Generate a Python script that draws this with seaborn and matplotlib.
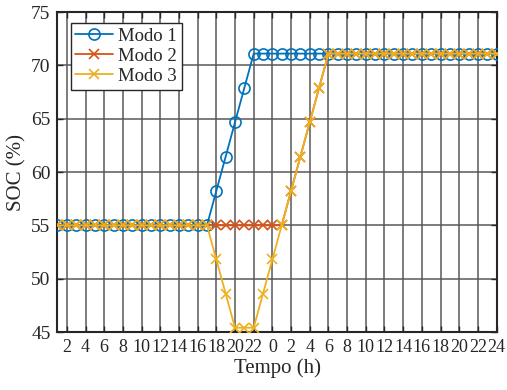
import matplotlib
matplotlib.use("Agg")
import matplotlib.pyplot as plt
import seaborn as sns
import numpy as np

hours = list(range(1, 49))
modo1 = [55.0]*17 + [58.22, 61.44, 64.66, 67.88] + [71.1]*27
modo2 = [55.0]*25 + [58.22, 61.44, 64.66, 67.88] + [71.1]*19
modo3 = [55.0]*17 + [51.8, 48.6, 45.4, 45.4, 45.4, 48.6, 51.8, 55.0,
                     58.22, 61.44, 64.66, 67.88] + [71.1]*19
tick_pos = list(range(2, 49, 2))
tick_labels = [str(h) for h in range(2, 23, 2)] + ["0"] + [str(h) for h in range(2, 25, 2)]
y_ticks = [45, 50, 55, 60, 65, 70, 75]

sns.set_style("white")
plt.rcParams['font.family'] = ['Liberation Serif', 'DejaVu Serif']
plt.rcParams['mathtext.fontset'] = 'stix'

fig = plt.figure(figsize=(5.07, 3.90), dpi=100)
ax = fig.add_axes([0.1134, 0.1487, 0.866, 0.8205])

c1, c2, c3 = '#0072BD', '#D95319', '#EDB120'
sns.lineplot(x=hours, y=modo1, ax=ax, color=c1, marker='o', markersize=8,
             markerfacecolor='none', markeredgecolor=c1, markeredgewidth=1.2,
             linewidth=1.3, label='Modo 1', zorder=3)
sns.lineplot(x=hours, y=modo2, ax=ax, color=c2, marker='x', markersize=6.5,
             markeredgecolor=c2, markeredgewidth=1.2,
             linewidth=1.3, label='Modo 2', zorder=4)
sns.lineplot(x=hours, y=modo3, ax=ax, color=c3, marker='x', markersize=6.5,
             markeredgecolor=c3, markeredgewidth=1.2,
             linewidth=1.3, label='Modo 3', zorder=5)

ax.set_xlim(1, 48)
ax.set_ylim(45, 75)
ax.set_xticks(tick_pos)
ax.set_xticklabels(tick_labels)
ax.set_yticks(y_ticks)
ax.tick_params(axis='x', labelsize=13)
ax.tick_params(axis='y', labelsize=14)
ax.tick_params(axis='both', which='both', direction='in', length=4, width=1.0,
               colors='#262626', top=True, right=True,
               bottom=True, left=True, pad=5)
ax.grid(True, color='#555555', linewidth=1.2, alpha=0.9, zorder=0)
ax.set_axisbelow(True)
for s in ax.spines.values():
    s.set_visible(True)
    s.set_color('#262626')
    s.set_linewidth(1.5)

ax.set_xlabel('Tempo (h)', fontsize=15, color='#262626', labelpad=2)
ax.set_ylabel('SOC (%)', fontsize=15, color='#262626', labelpad=3)

leg = ax.legend(loc='upper left', bbox_to_anchor=(0.03, 0.965), fontsize=13.5,
                frameon=True, fancybox=False, edgecolor='#262626',
                framealpha=1.0, handlelength=2.0, borderpad=0.25,
                labelspacing=0.15, handletextpad=0.3, borderaxespad=0.0)
leg.get_frame().set_linewidth(1.0)

fig.savefig('out.png', dpi=100)
